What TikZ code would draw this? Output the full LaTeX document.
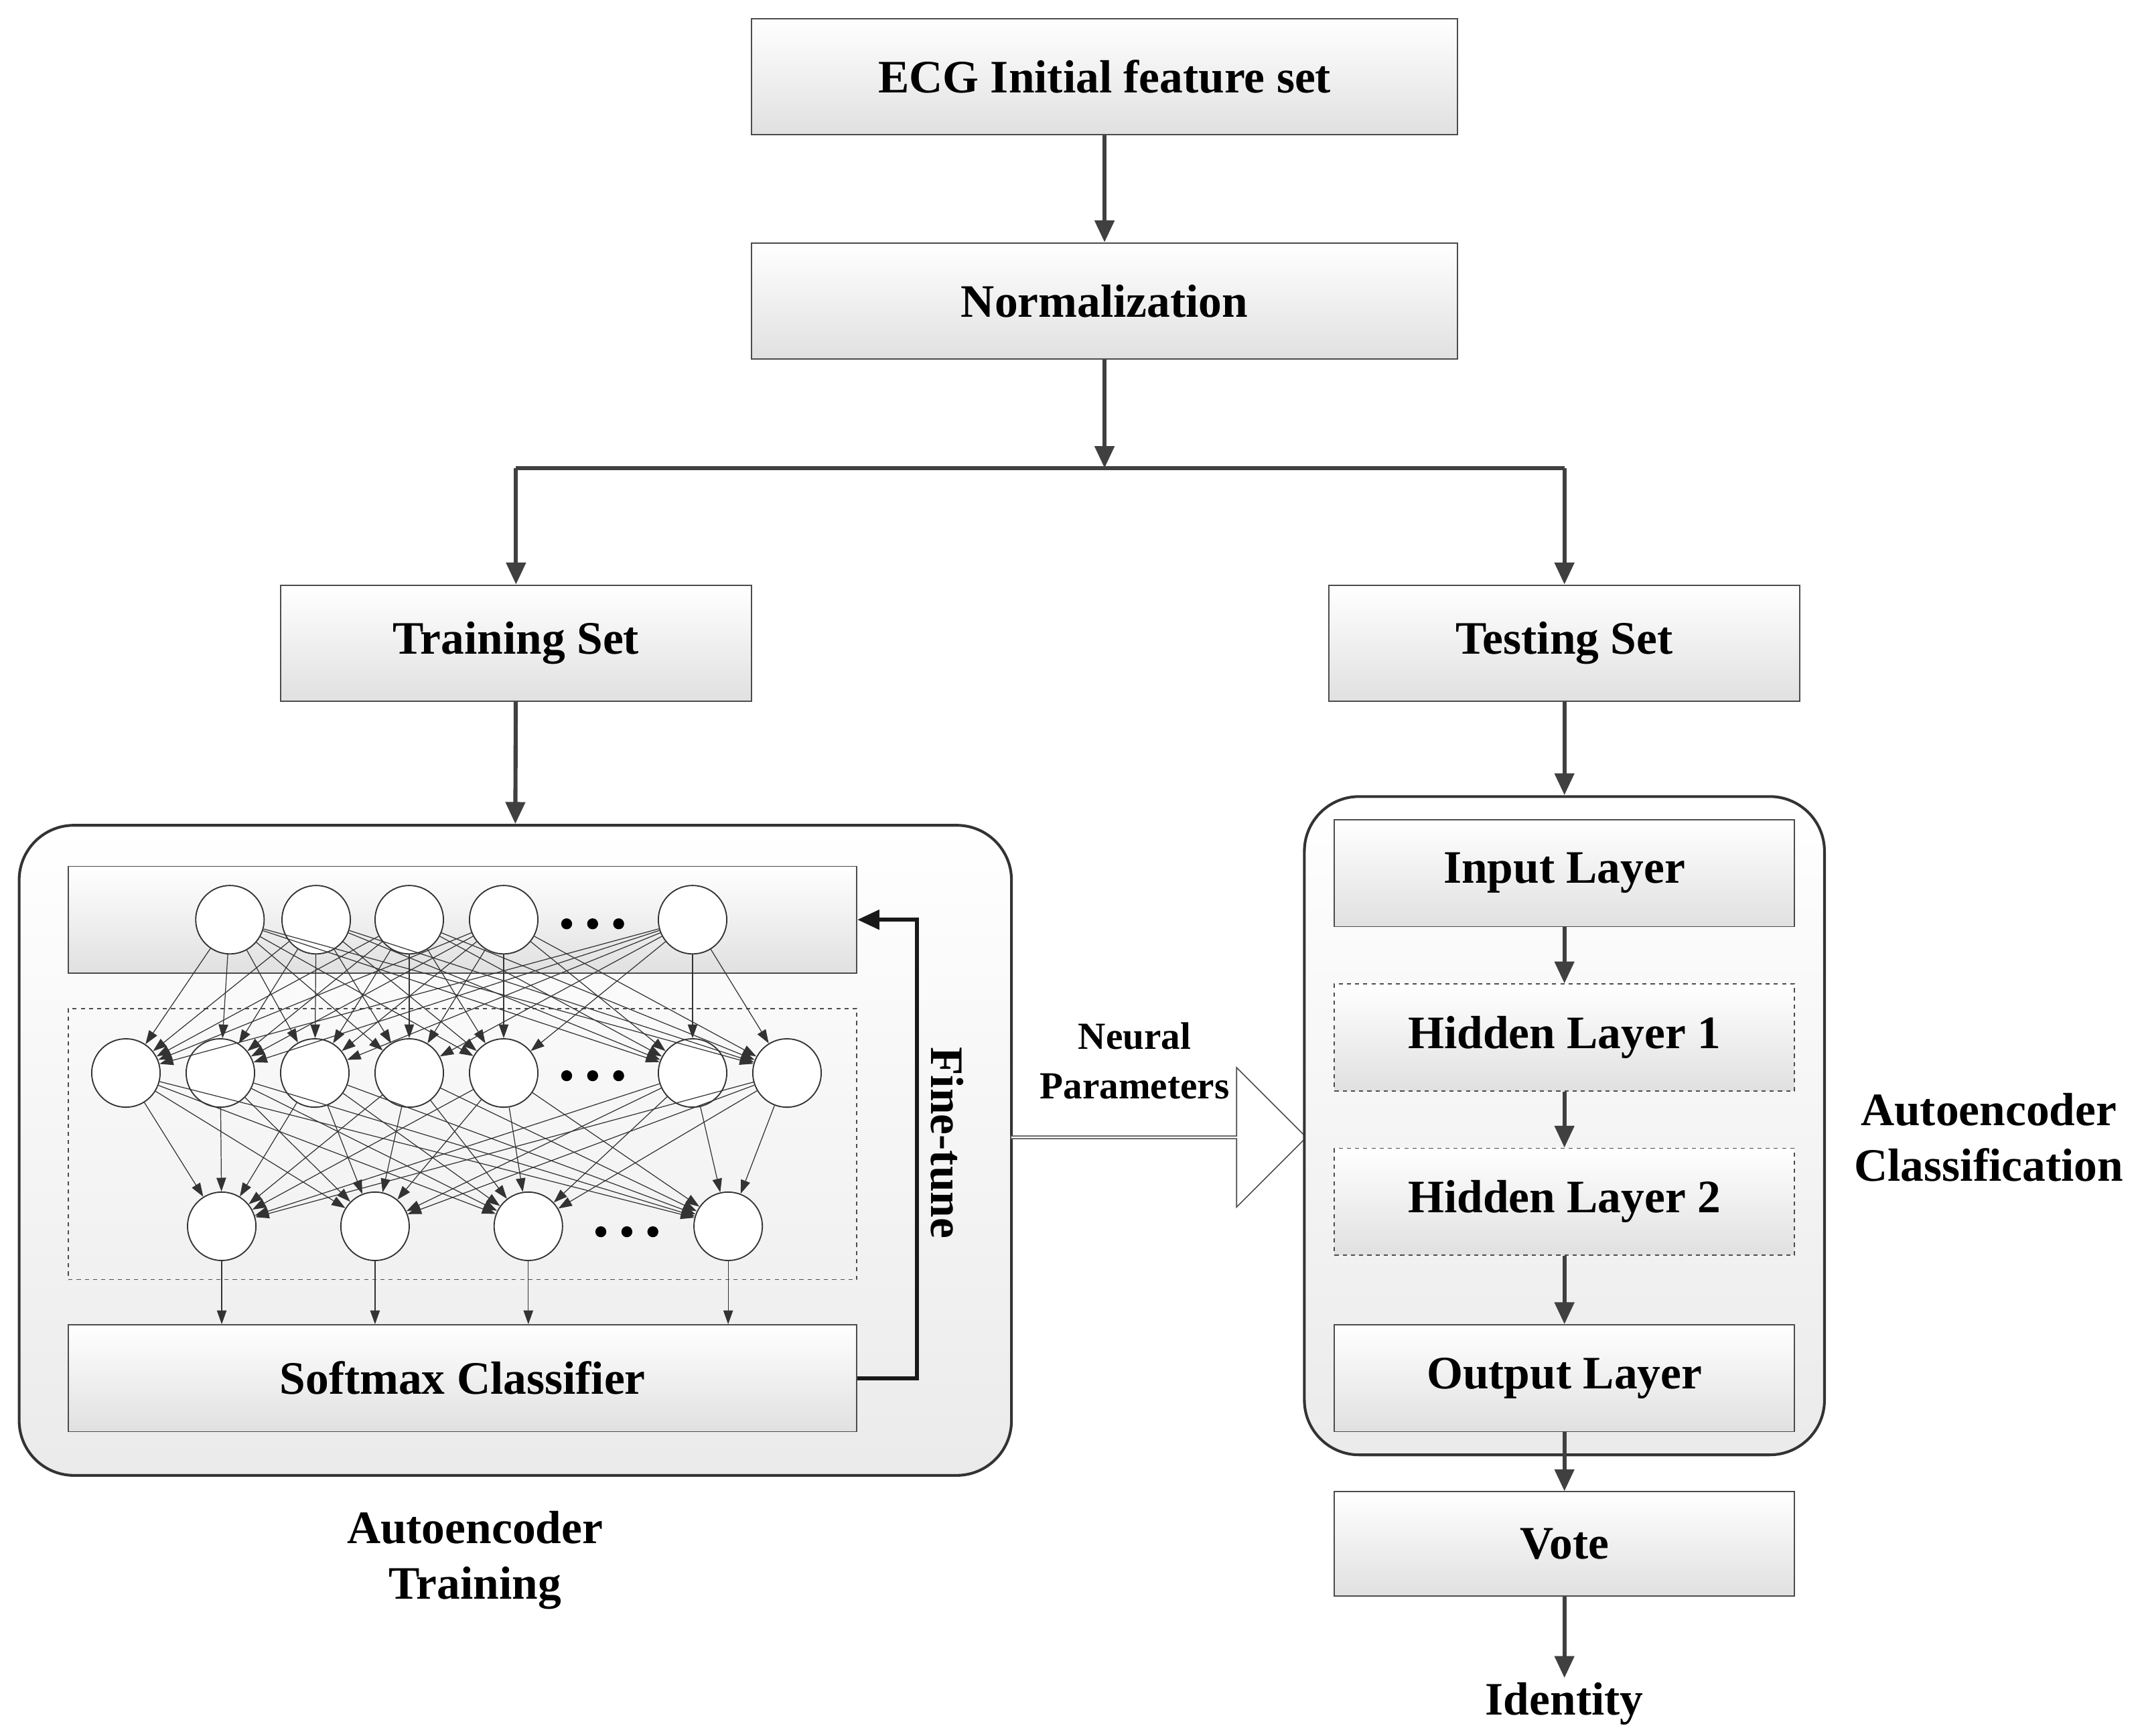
\documentclass[tikz,border=0pt]{standalone}
\usepackage{fontspec}
\setmainfont{Liberation Serif}
\usetikzlibrary{arrows.meta,shapes.arrows}
\begin{document}
\begin{tikzpicture}[x=1pt,y=-1pt,
  txt/.style={font=\fontsize{34}{41}\selectfont\bfseries},
  box/.style={draw=black!70,line width=0.9pt,top color=white,bottom color=black!12},
  dbox/.style={box,dashed},
  neu/.style={circle,draw=black!80,line width=0.9pt,fill=white,minimum size=50pt,inner sep=0pt},
  big/.style={line width=3pt,draw=black!75,-{Triangle[length=16pt,width=14pt]}},
  thin/.style={line width=0.6pt,draw=black!80,-{Triangle[length=10pt,width=7pt]}},
  dot/.style={circle,fill=black,inner sep=0pt,minimum size=8pt}]
\useasboundingbox (0,0) rectangle (1565,1268);
% top boxes
\node[box,minimum width=516pt,minimum height=85pt,txt] (ecg) at (807,56) {ECG Initial feature set};
\node[box,minimum width=516pt,minimum height=85pt,txt] (norm) at (807,220) {Normalization};
\node[box,minimum width=344pt,minimum height=85pt,txt] (train) at (377,470) {Training Set};
\node[box,minimum width=344pt,minimum height=85pt,txt] (test) at (1143,470) {Testing Set};
\coordinate (split) at (807,342);
\draw[big] (ecg) -- (norm);
\draw[big] (norm) -- (split);
\draw[line width=3pt,draw=black!75] (377,342) -- (1143,342);
\draw[big] (377,342) -- (train);
\draw[big] (1143,342) -- (test);
% left container
\node[draw=black!80,line width=2pt,rounded corners=40pt,top color=white,bottom color=black!8,minimum width=725pt,minimum height=475pt] (left) at (376.5,840.5) {};
\draw[big] (train) -- (left.north);
\node[box,minimum width=576pt,minimum height=78pt] (inp) at (338,672) {};
\node[draw=black!70,dashed,line width=0.8pt,minimum width=576pt,minimum height=198pt] (hid) at (338,836) {};
\node[box,minimum width=576pt,minimum height=78pt,txt] (soft) at (338,1007) {Softmax Classifier};
% neurons
\foreach \i/\x in {1/168,2/231,3/299,4/368,5/506} \node[neu] (a\i) at (\x,672) {};
\foreach \i/\x in {1/92,2/161,3/230,4/299,5/368,6/506,7/575} \node[neu] (b\i) at (\x,784) {};
\foreach \i/\x in {1/162,2/274,3/386,4/532} \node[neu] (c\i) at (\x,896) {};
\foreach \x in {414,433,452} {\node[dot] at (\x,675) {}; \node[dot] at (\x,786) {};}
\foreach \x in {439,458,477} {\node[dot] at (\x,900) {};}
\foreach \i in {1,...,5}{\foreach \j in {1,...,7}{\draw[thin] (a\i) -- (b\j);}}
\foreach \i in {1,...,7}{\foreach \j in {1,...,4}{\draw[thin] (b\i) -- (c\j);}}
\foreach \j in {1,...,4}{\draw[thin] (c\j) -- (c\j |- soft.north);}
% fine tune
\draw[line width=3pt,draw=black!90,-{Triangle[length=16pt,width=14pt]}] (soft.east) -- (670,1007) -- (670,672) -- (inp.east);
\node[txt,rotate=-90] (ft) at (692,835) {Fine-tune};
% hollow arrow
\node[single arrow,draw=black!70,line width=0.8pt,fill=white,minimum height=216pt,minimum width=102pt,single arrow head extend=21pt,single arrow tip angle=90,inner sep=0pt,text height=0pt] (ha) at (846,831) {};
\node[font=\fontsize{28}{36}\selectfont\bfseries,align=center] (np) at (829,775) {Neural\\Parameters};
% right container
\node[draw=black!80,line width=2pt,rounded corners=40pt,top color=white,bottom color=black!8,minimum width=380pt,minimum height=481pt] (right) at (1143,822.5) {};
\node[box,minimum width=336pt,minimum height=78pt,txt] (il) at (1143,638) {Input Layer};
\node[dbox,minimum width=336pt,minimum height=78pt,txt] (h1) at (1143,758) {Hidden Layer 1};
\node[dbox,minimum width=336pt,minimum height=78pt,txt] (h2) at (1143,878) {Hidden Layer 2};
\node[box,minimum width=336pt,minimum height=78pt,txt] (ol) at (1143,1007) {Output Layer};
\node[box,minimum width=336pt,minimum height=76pt,txt] (vote) at (1143,1128) {Vote};
\node[txt] (id) at (1143,1245) {Identity};
\draw[big] (test) -- (right.north);
\draw[big] (il) -- (h1);
\draw[big] (h1) -- (h2);
\draw[big] (h2) -- (ol);
\draw[big] (ol) -- (vote);
\draw[big] (vote) -- (id);
\node[txt,align=center] (ac) at (1453,831) {Autoencoder\\Classification};
\node[txt,align=center] (at) at (347,1140) {Autoencoder\\Training};
\end{tikzpicture}
\end{document}
